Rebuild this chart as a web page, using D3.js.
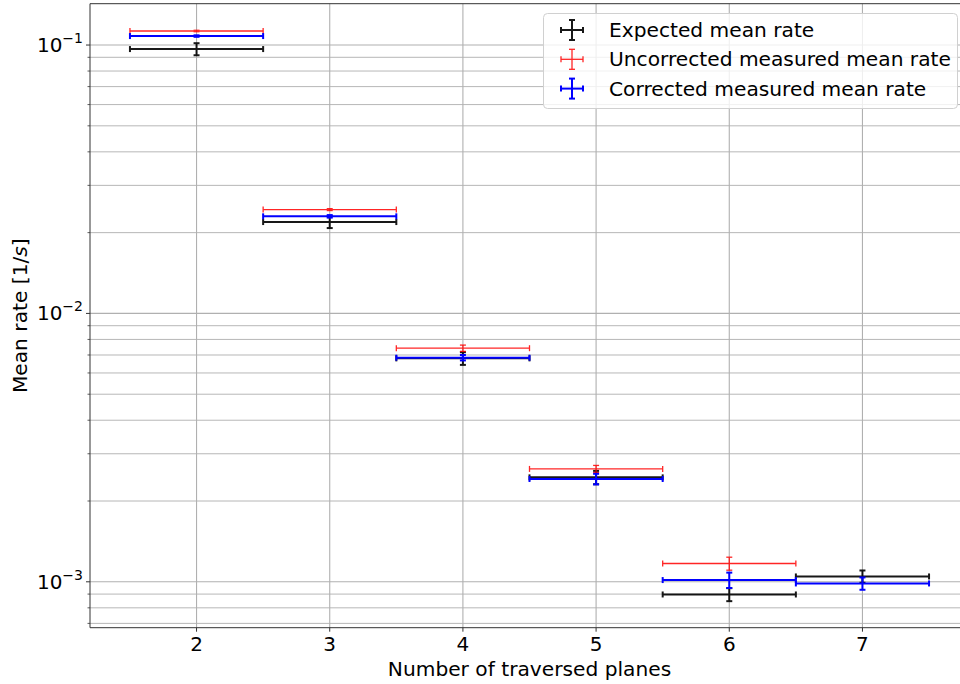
<!DOCTYPE html>
<html>
<head>
<meta charset="utf-8">
<script src="https://cdn.jsdelivr.net/npm/d3@7"></script>
<style>
  html, body { margin: 0; padding: 0; background: #fff; }
  svg { display: block; font-family: "DejaVu Sans", sans-serif; }
</style>
</head>
<body>
<svg id="chart" width="960" height="684"></svg>
<script>
// Number of traversed planes (bin centres, each bin is ±0.5 wide)
const planesExpected = [2, 3, 4, 5, 6, 7];
const expectedRate   = [0.0966, 0.0219, 0.00680, 0.00245, 0.000897, 0.001047];
const expectedErr    = [0.0050, 0.0011, 0.00037, 0.00014, 0.000050, 0.000055];

const planesMeasured = [2, 3, 4, 5, 6];
const uncorrectedRate = [0.1128, 0.02437, 0.00742, 0.002634, 0.001170];
const uncorrectedErr  = [0.0007, 0.00020, 0.00020, 0.000080, 0.000065];

const planesCorrected = [2, 3, 4, 5, 6, 7];
const correctedRate   = [0.1080, 0.0230, 0.00684, 0.002416, 0.001015, 0.000986];
const correctedErr    = [0.0007, 0.00025, 0.00016, 0.000110, 0.000067, 0.000052];

const binHalfWidth = 0.5;
const xTicks = [2, 3, 4, 5, 6, 7];
const yMajorTicks = [1e-3, 1e-2, 1e-1];
const yTickExponents = ["−3", "−2", "−1"];

const seriesList = [
  { name: "Expected mean rate", x: planesExpected, y: expectedRate, e: expectedErr,
    color: "#000000", width: 2, opacity: 0.9 },
  { name: "Uncorrected measured mean rate", x: planesMeasured, y: uncorrectedRate, e: uncorrectedErr,
    color: "#ff0000", width: 1.3, opacity: 0.85 },
  { name: "Corrected measured mean rate", x: planesCorrected, y: correctedRate, e: correctedErr,
    color: "#0000ff", width: 2, opacity: 1 }
];

const svg = d3.select("#chart");
const plot = { left: 90, right: 969, top: 3.7, bottom: 627.7 };

const x = d3.scaleLinear().domain([1.2, 7.8]).range([plot.left, plot.right]);
const y = d3.scaleLog().domain([Math.pow(10, -3.171), Math.pow(10, -0.846)])
  .range([plot.bottom, plot.top]);

// minor log ticks (2..9 × each decade) inside the domain
const yMinor = [];
for (let p = -4; p <= 0; p++) {
  for (let m = 2; m <= 9; m++) {
    const v = m * Math.pow(10, p);
    if (v >= y.domain()[0] && v <= y.domain()[1]) yMinor.push(v);
  }
}

const grid = svg.append("g");
grid.selectAll("line.ymin").data(yMinor).join("line")
  .attr("x1", plot.left).attr("x2", plot.right)
  .attr("y1", d => y(d)).attr("y2", d => y(d))
  .attr("stroke", "#b0b0b0").attr("stroke-width", 1).attr("opacity", 0.9);
grid.selectAll("line.ymaj").data(yMajorTicks).join("line")
  .attr("x1", plot.left).attr("x2", plot.right)
  .attr("y1", d => y(d)).attr("y2", d => y(d))
  .attr("stroke", "#b0b0b0").attr("stroke-width", 1.1);
grid.selectAll("line.xmaj").data(xTicks).join("line")
  .attr("x1", d => x(d)).attr("x2", d => x(d))
  .attr("y1", plot.top).attr("y2", plot.bottom)
  .attr("stroke", "#b0b0b0").attr("stroke-width", 1.1);

// error bars
const capHalf = 3;
seriesList.forEach(s => {
  const g = svg.append("g").attr("stroke", s.color).attr("stroke-width", s.width)
    .attr("opacity", s.opacity).attr("fill", "none");
  s.x.forEach((xv, i) => {
    const yv = s.y[i], ev = s.e[i];
    const cx = x(xv), cy = y(yv);
    const x0 = x(xv - binHalfWidth), x1 = x(xv + binHalfWidth);
    const yTop = y(yv + ev), yBot = y(yv - ev);
    g.append("line").attr("x1", x0).attr("x2", x1).attr("y1", cy).attr("y2", cy);
    g.append("line").attr("x1", x0).attr("x2", x0).attr("y1", cy - capHalf).attr("y2", cy + capHalf);
    g.append("line").attr("x1", x1).attr("x2", x1).attr("y1", cy - capHalf).attr("y2", cy + capHalf);
    g.append("line").attr("x1", cx).attr("x2", cx).attr("y1", yTop).attr("y2", yBot);
    g.append("line").attr("x1", cx - capHalf).attr("x2", cx + capHalf).attr("y1", yTop).attr("y2", yTop);
    g.append("line").attr("x1", cx - capHalf).attr("x2", cx + capHalf).attr("y1", yBot).attr("y2", yBot);
  });
});

// spines
const axisColor = "#333";
svg.append("line").attr("x1", plot.left).attr("x2", plot.left).attr("y1", plot.top).attr("y2", plot.bottom)
  .attr("stroke", axisColor).attr("stroke-width", 1);
svg.append("line").attr("x1", plot.left).attr("x2", plot.right).attr("y1", plot.bottom).attr("y2", plot.bottom)
  .attr("stroke", axisColor).attr("stroke-width", 1);
svg.append("line").attr("x1", plot.left).attr("x2", plot.right).attr("y1", plot.top).attr("y2", plot.top)
  .attr("stroke", axisColor).attr("stroke-width", 1);

// x axis ticks and labels
const xAxis = svg.append("g");
xTicks.forEach(t => {
  xAxis.append("line").attr("x1", x(t)).attr("x2", x(t)).attr("y1", plot.bottom).attr("y2", plot.bottom + 4)
    .attr("stroke", axisColor).attr("stroke-width", 1);
  xAxis.append("text").attr("x", x(t)).attr("y", plot.bottom + 23)
    .attr("text-anchor", "middle").attr("font-size", 20).attr("fill", "#000").text(d3.format("d")(t));
});

// y axis ticks and labels
const yAxis = svg.append("g");
yMinor.forEach(v => {
  yAxis.append("line").attr("x1", plot.left - 2.5).attr("x2", plot.left).attr("y1", y(v)).attr("y2", y(v))
    .attr("stroke", axisColor).attr("stroke-width", 0.8);
});
yMajorTicks.forEach((v, i) => {
  yAxis.append("line").attr("x1", plot.left - 4).attr("x2", plot.left).attr("y1", y(v)).attr("y2", y(v))
    .attr("stroke", axisColor).attr("stroke-width", 1);
  const t = yAxis.append("text").attr("x", plot.left - 7).attr("y", y(v) + 7)
    .attr("text-anchor", "end").attr("fill", "#000").attr("font-size", 20);
  t.append("tspan").text("10");
  t.append("tspan").attr("dy", -9).attr("font-size", 14).text(yTickExponents[i]);
});

// axis titles
svg.append("text").attr("x", (plot.left + plot.right) / 2).attr("y", 675.5)
  .attr("text-anchor", "middle").attr("font-size", 20.2).attr("fill", "#000")
  .text("Number of traversed planes");
const yl = svg.append("text").attr("transform", `translate(27,${(plot.top + plot.bottom) / 2}) rotate(-90)`)
  .attr("text-anchor", "middle").attr("font-size", 20.2).attr("fill", "#000");
yl.append("tspan").text("Mean rate [1/");
yl.append("tspan").attr("font-style", "italic").text("s");
yl.append("tspan").text("]");

// legend
const legend = svg.append("g");
legend.append("rect").attr("x", 543.5).attr("y", 13.5).attr("width", 414).attr("height", 95)
  .attr("rx", 4).attr("fill", "#fff").attr("fill-opacity", 0.8)
  .attr("stroke", "#d0d0d0").attr("stroke-width", 1);
seriesList.forEach((s, i) => {
  const cy = 30 + i * 29.3, cx = 572;
  const g = legend.append("g").attr("stroke", s.color).attr("stroke-width", s.width).attr("opacity", s.opacity);
  g.append("line").attr("x1", cx - 11).attr("x2", cx + 11).attr("y1", cy).attr("y2", cy);
  g.append("line").attr("x1", cx - 11).attr("x2", cx - 11).attr("y1", cy - capHalf).attr("y2", cy + capHalf);
  g.append("line").attr("x1", cx + 11).attr("x2", cx + 11).attr("y1", cy - capHalf).attr("y2", cy + capHalf);
  g.append("line").attr("x1", cx).attr("x2", cx).attr("y1", cy - 10).attr("y2", cy + 10);
  g.append("line").attr("x1", cx - capHalf).attr("x2", cx + capHalf).attr("y1", cy - 10).attr("y2", cy - 10);
  g.append("line").attr("x1", cx - capHalf).attr("x2", cx + capHalf).attr("y1", cy + 10).attr("y2", cy + 10);
  legend.append("text").attr("x", 609).attr("y", cy + 7).attr("font-size", 20.2).attr("fill", "#000")
    .text(s.name);
});
</script>
</body>
</html>
